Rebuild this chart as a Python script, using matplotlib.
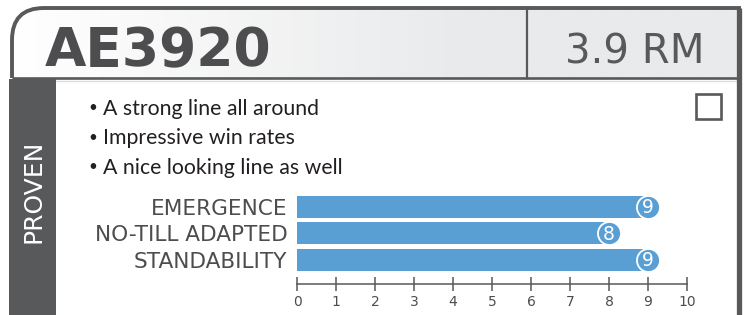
import numpy as np
import matplotlib
matplotlib.use("Agg")
import matplotlib.pyplot as plt
from matplotlib.path import Path
from matplotlib.patches import PathPatch, Rectangle
from matplotlib.colors import LinearSegmentedColormap

# ---- data ----
title = "AE3920"
maturity = "3.9 RM"
side_label = "PROVEN"
bullets = ["A strong line all around", "Impressive win rates", "A nice looking line as well"]
categories = ["EMERGENCE", "NO-TILL ADAPTED", "STANDABILITY"]
scores = [9, 8, 9]
xticks = [0, 1, 2, 3, 4, 5, 6, 7, 8, 9, 10]

DARK = "#58595b"
TEXT = "#4d4d4f"
BLUE = "#5a9fd4"
W, H = 748, 315

fig = plt.figure(figsize=(W / 100, H / 100), dpi=100)
bg = fig.add_axes([0, 0, 1, 1])
bg.set_xlim(0, W)
bg.set_ylim(H, 0)
bg.axis("off")

# header shape with rounded top-left corner
x0, x1, y0, y1, r = 12, 739, 8, 78, 32
verts = [(x0, y1), (x0, y0 + r), (x0, y0), (x0 + r, y0), (x1, y0), (x1, y1), (x0, y1)]
codes = [Path.MOVETO, Path.LINETO, Path.CURVE3, Path.CURVE3, Path.LINETO, Path.LINETO, Path.CLOSEPOLY]
hdr_path = Path(verts, codes)
hdr_fill = PathPatch(hdr_path, facecolor="none", edgecolor="none")
bg.add_patch(hdr_fill)
cmap = LinearSegmentedColormap.from_list("g", ["#ffffff", "#e9eaeb"])
grad = np.clip(np.linspace(0, 1.6, 400), 0, 1)[None, :]
im = bg.imshow(grad, cmap=cmap, extent=[x0, x1, y1, y0], aspect="auto", zorder=1)
im.set_clip_path(hdr_fill)
bg.set_xlim(0, W)
bg.set_ylim(H, 0)

# header outline: top/left/right thicker, bottom thinner
outline = Path(verts[:6], codes[:6])
bg.add_patch(PathPatch(outline, facecolor="none", edgecolor=DARK, lw=2.8, zorder=3,
                       capstyle="butt", joinstyle="miter"))
bg.plot([x0, x1], [y1, y1], color=DARK, lw=1.9, zorder=3, solid_capstyle="butt")
# divider
bg.plot([527, 527], [y0, y1], color=DARK, lw=1.6, zorder=3)
# right border down to bottom
bg.plot([739.5, 739.5], [y0, H], color=DARK, lw=3.8, zorder=3, solid_capstyle="butt")
# left band
bg.add_patch(Rectangle((9, 79), 47, H - 79, facecolor=DARK, edgecolor="none", zorder=3))
# light line under header
bg.plot([56, 737], [80.5, 80.5], color="#dcdcdc", lw=1.0, zorder=2)

# texts
bg.text(45, 66, title, fontsize=38.5, fontweight="bold", color=TEXT, va="baseline", ha="left", zorder=4)
bg.text(635, 63, maturity, fontsize=29, color=DARK, va="baseline", ha="center", zorder=4)
bg.text(34, 191, side_label, fontsize=18, color="white", rotation=90, ha="center", va="center", zorder=4)
for i, b in enumerate(bullets):
    yb = 115 + i * 29.5
    bg.text(93, yb - 7, "\u2022", fontsize=11, family="Lato", color="#231f20",
            va="center", ha="center", zorder=4)
    bg.text(103, yb, b, fontsize=15.3, family="Lato", color="#231f20",
            va="baseline", ha="left", zorder=4)

# checkbox
bg.add_patch(Rectangle((696, 94), 25, 25, facecolor="white", edgecolor=DARK, lw=1.9, zorder=4))

# ---- bar chart ----
ax_left, ax_right = 297, 687
ax_top, ax_bot = 190, 284
ax = fig.add_axes([ax_left / W, 1 - ax_bot / H, (ax_right - ax_left) / W, (ax_bot - ax_top) / H])
ax.patch.set_alpha(0)
ypos = np.arange(len(categories))
ax.barh(ypos, scores, height=0.83, color=BLUE, zorder=2)
ax.scatter(scores, ypos, s=275, color=BLUE, edgecolors="white", linewidths=1.3, zorder=3, clip_on=False)
for y, v in zip(ypos, scores):
    ax.text(v, y + 0.03, str(v), color="white", fontsize=13.5, ha="center", va="center", zorder=4)
ax.set_xlim(0, 10)
ax.set_ylim(2.906, -0.64)
ax.set_yticks(ypos)
ax.set_yticklabels(categories, fontsize=15.6, color=TEXT)
ax.tick_params(axis="y", length=0, pad=7)
ax.set_xticks(xticks)
ax.set_xticklabels([str(t) for t in xticks], fontsize=10, color=TEXT)
ax.tick_params(axis="x", direction="inout", length=9.5, width=1.1, color=DARK, pad=3)
for s in ["top", "right", "left"]:
    ax.spines[s].set_visible(False)
ax.spines["bottom"].set_color(DARK)
ax.spines["bottom"].set_linewidth(1.1)

fig.savefig("out.png", dpi=100)
